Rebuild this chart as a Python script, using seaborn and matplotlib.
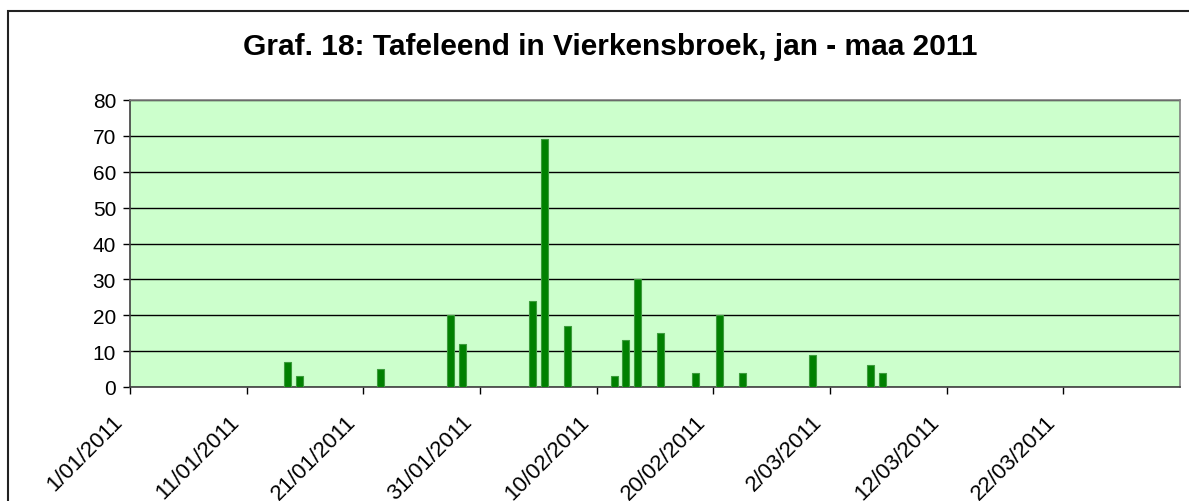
import pandas as pd
import numpy as np
import matplotlib
matplotlib.use("Agg")
import matplotlib.pyplot as plt
import seaborn as sns
from matplotlib.patches import Rectangle
from matplotlib.transforms import ScaledTranslation

# tellingen Tafeleend (datum, aantal)
dates = ["2011-01-14", "2011-01-15", "2011-01-22", "2011-01-28", "2011-01-29",
         "2011-02-04", "2011-02-05", "2011-02-07", "2011-02-11", "2011-02-12",
         "2011-02-13", "2011-02-15", "2011-02-18", "2011-02-20", "2011-02-22",
         "2011-02-28", "2011-03-05", "2011-03-06"]
counts = [7, 3, 5, 20, 12, 24, 69, 17, 3, 13, 30, 15, 4, 20, 4, 9, 6, 4]

tick_labels = ["1/01/2011", "11/01/2011", "21/01/2011", "31/01/2011", "10/02/2011",
               "20/02/2011", "2/03/2011", "12/03/2011", "22/03/2011"]

start = pd.Timestamp("2011-01-01")
end = pd.Timestamp("2011-04-01")

df = pd.DataFrame({"datum": pd.to_datetime(dates), "aantal": counts})
# days since 1 jan, bar sits in the middle of its day
df["dag"] = (df["datum"] - start).dt.days + 0.5

sns.set_theme(style="white")
plt.rcParams["font.family"] = ["Liberation Sans", "DejaVu Sans"]
plt.rcParams["text.color"] = "black"

fig = plt.figure(figsize=(11.89, 5.02), dpi=100)
ax = fig.add_axes([130 / 1189, 1 - 388 / 502, 1050 / 1189, 287 / 502])

sns.barplot(data=df, x="dag", y="aantal", native_scale=True, width=0.62,
            color="#008000", edgecolor="#3c9c3c", linewidth=0.8,
            saturation=1, ax=ax, zorder=3)

ax.set_facecolor("#ccffcc")
ax.set_xlim(0, (end - start).days)
ax.set_ylim(0, 80)
ax.set_yticks(np.arange(0, 81, 10))
ax.yaxis.grid(True, color="black", linewidth=1.0, zorder=1)
ax.set_axisbelow(True)

ax.set_xticks(np.arange(0, 81, 10))
ax.set_xticklabels(tick_labels, rotation=45, ha="right", va="top",
                   rotation_mode="anchor")
ax.set_xlabel("")
ax.set_ylabel("")
ax.tick_params(axis="both", colors="black", length=5, width=1,
               direction="out", bottom=True, left=True)
ax.tick_params(axis="y", labelsize=15, pad=5)
ax.tick_params(axis="x", labelsize=16, pad=12)
# nudge the slanted date labels to the left like in the original
shift = ScaledTranslation(-18 / 100, 0, fig.dpi_scale_trans)
for lab in ax.get_xticklabels():
    lab.set_transform(lab.get_transform() + shift)

for side in ["top", "right"]:
    ax.spines[side].set_color("#808080")
    ax.spines[side].set_linewidth(1.2)
for side in ["left", "bottom"]:
    ax.spines[side].set_color("#404040")
    ax.spines[side].set_linewidth(1.2)

fig.text(610 / 1189, 1 - 47 / 502, "Graf. 18: Tafeleend in Vierkensbroek, jan - maa 2011",
         ha="center", va="center", fontsize=21.5, fontweight="bold", color="black")

# chart frame, runs off the picture on right and bottom
fig.patches.append(Rectangle((8 / 1189, -0.1), 1.1, 1 - 12 / 502 + 0.1,
                             transform=fig.transFigure, fill=False,
                             edgecolor="#222222", linewidth=1.5))

fig.savefig("out.png", dpi=100)
